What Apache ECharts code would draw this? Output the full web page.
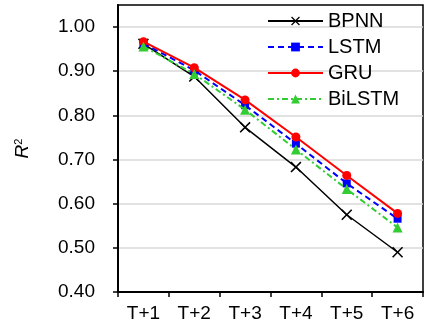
<!DOCTYPE html>
<html><head><meta charset="utf-8">
<script src="https://cdn.jsdelivr.net/npm/echarts@6/dist/echarts.min.js"></script>
<style>html,body{margin:0;padding:0;background:#fff}#c{width:425px;height:329px}</style>
</head><body><div id="c"></div>
<script>
const categories = ['T+1','T+2','T+3','T+4','T+5','T+6'];
const bpnn   = [0.962, 0.888, 0.773, 0.683, 0.575, 0.490];
const lstm   = [0.963, 0.902, 0.823, 0.736, 0.646, 0.566];
const gru    = [0.967, 0.908, 0.835, 0.751, 0.664, 0.578];
const bilstm = [0.956, 0.894, 0.813, 0.723, 0.633, 0.546];
const yTicks = [0.4, 0.5, 0.6, 0.7, 0.8, 0.9, 1.0];

const FONT = '"Liberation Sans", Arial, sans-serif';
const crossPath = 'path://M0,1 L1,0 L5,4 L9,0 L10,1 L6,5 L10,9 L9,10 L5,6 L1,10 L0,9 L4,5 Z';

const chart = echarts.init(document.getElementById('c'), null, {renderer: 'canvas'});
chart.setOption({
  animation: false,
  backgroundColor: '#fff',
  textStyle: {fontFamily: FONT},
  grid: {left: 118, top: 5, right: 2, bottom: 37, show: true, borderColor: '#000', borderWidth: 1.5, backgroundColor: 'transparent'},
  legend: {
    orient: 'vertical', left: 267, top: 11, padding: 0, itemGap: 6,
    itemWidth: 55, itemHeight: 11,
    textStyle: {fontFamily: FONT, fontSize: 20, color: '#000'},
    data: ['BPNN','LSTM','GRU','BiLSTM']
  },
  xAxis: {
    type: 'category', data: categories, boundaryGap: true,
    axisLine: {lineStyle: {color: '#000', width: 2}},
    axisTick: {show: true, length: 5, inside: false, lineStyle: {color: '#000', width: 1.5}},
    axisLabel: {fontFamily: FONT, fontSize: 19, color: '#000', margin: 12},
    splitLine: {show: false}
  },
  yAxis: {
    type: 'value', min: 0.4, max: 1.05, interval: 0.1,
    name: '{r|R}{s|2}', nameLocation: 'middle', nameRotate: 90, nameGap: 86,
    nameTextStyle: {rich: {
      r: {fontFamily: FONT, fontSize: 19, fontStyle: 'italic', color: '#000'},
      s: {fontFamily: FONT, fontSize: 11, color: '#000', padding: [0,0,8,0]}
    }},
    axisLine: {show: true, lineStyle: {color: '#000', width: 2}},
    axisTick: {show: true, length: 5, customValues: yTicks, lineStyle: {color: '#000', width: 1.5}},
    axisLabel: {fontFamily: FONT, fontSize: 19, color: '#000', margin: 23, customValues: yTicks,
      formatter: v => v.toFixed(2)},
    splitLine: {show: true, lineStyle: {color: '#d9d9d9', width: 1.5}}
  },
  series: [
    {name: 'BPNN', type: 'line', data: bpnn, symbol: crossPath, symbolSize: 11, z: 2,
     lineStyle: {color: '#000', width: 1.5}, itemStyle: {color: '#000'}},
    {name: 'LSTM', type: 'line', data: lstm, symbol: 'rect', symbolSize: 8, z: 3,
     lineStyle: {color: '#0000ff', width: 2, type: [6,4]}, itemStyle: {color: '#0000ff'}},
    {name: 'GRU', type: 'line', data: gru, symbol: 'circle', symbolSize: 9, z: 4,
     lineStyle: {color: '#ff0000', width: 2}, itemStyle: {color: '#ff0000'}},
    {name: 'BiLSTM', type: 'line', data: bilstm, symbol: 'triangle', symbolSize: 10, z: 5,
     lineStyle: {color: '#33cc33', width: 2, type: [6,3,2,3]}, itemStyle: {color: '#33cc33'}}
  ]
});
</script></body></html>
